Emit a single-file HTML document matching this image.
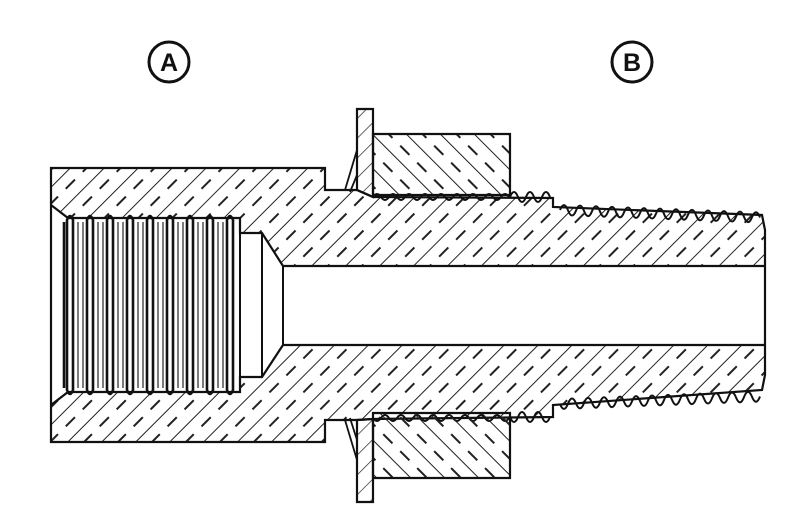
<!DOCTYPE html>
<html><head><meta charset="utf-8"><style>
html,body{margin:0;padding:0;background:#fff;}
svg{display:block}
</style></head><body>
<svg width="800" height="514" viewBox="0 0 800 514" xmlns="http://www.w3.org/2000/svg">
<defs>
<pattern id="hb" width="24" height="24" patternUnits="userSpaceOnUse" patternTransform="rotate(45)">
<line x1="0" y1="0" x2="0" y2="24" stroke="#222" stroke-width="2"/>
<line x1="12" y1="2" x2="12" y2="15" stroke="#222" stroke-width="2"/>
</pattern>
<pattern id="hn" width="24" height="24" patternUnits="userSpaceOnUse" patternTransform="rotate(-45)">
<line x1="0" y1="0" x2="0" y2="24" stroke="#222" stroke-width="2"/>
<line x1="12" y1="2" x2="12" y2="15" stroke="#222" stroke-width="2"/>
</pattern>
<pattern id="hw" width="14" height="14" patternUnits="userSpaceOnUse" patternTransform="rotate(45)">
<line x1="0" y1="0" x2="0" y2="14" stroke="#222" stroke-width="1.4"/>
</pattern>
</defs>
<g fill="none" stroke="#111" stroke-width="3">
<circle cx="169" cy="62" r="20"/>
<circle cx="632" cy="62" r="20"/>
</g>
<text x="169" y="71" font-family="Liberation Sans, sans-serif" font-weight="bold" font-size="25" text-anchor="middle" fill="#111">A</text>
<text x="632" y="71" font-family="Liberation Sans, sans-serif" font-weight="bold" font-size="25" text-anchor="middle" fill="#111">B</text>

<path fill="url(#hb)" fill-rule="evenodd" stroke="#111" stroke-width="2.2"
d="M51,168 L325,168 L325,190 L357,190 L373,197 L553,198 L553,207 L762,215 L765,230 L765,375 L762,390 L553,405 L553,417 L373,419 L357,420 L325,420 L325,442 L51,442 Z
M51,205 L68,218 L240,218 L240,233 L262,233 L283,266 L765,266 L765,345 L283,345 L262,377 L240,377 L240,392 L68,392 L51,405 Z"/>
<line x1="240" y1="233" x2="240" y2="377" stroke="#111" stroke-width="2"/>
<line x1="262" y1="233" x2="262" y2="377" stroke="#111" stroke-width="2"/>
<line x1="283" y1="266" x2="283" y2="345" stroke="#111" stroke-width="2"/>

<g fill="none" stroke="#111" stroke-width="2.6">
<path d="M64,222 L64,388"/>
<path d="M67,220 q3,-8 6,0 L73,390 q-3,8 -6,0Z M87,220 q3,-8 6,0 L93,390 q-3,8 -6,0Z M107,220 q3,-8 6,0 L113,390 q-3,8 -6,0Z M127,220 q3,-8 6,0 L133,390 q-3,8 -6,0Z M147,220 q3,-8 6,0 L153,390 q-3,8 -6,0Z M167,220 q3,-8 6,0 L173,390 q-3,8 -6,0Z M187,220 q3,-8 6,0 L193,390 q-3,8 -6,0Z M207,220 q3,-8 6,0 L213,390 q-3,8 -6,0Z M227,220 q3,-8 6,0 L233,390 q-3,8 -6,0Z"/>
</g>
<g fill="none" stroke="#444" stroke-width="1.4">
<path d="M78,222V388M83,222V388M98,222V388M103,222V388M118,222V388M123,222V388M138,222V388M143,222V388M158,222V388M163,222V388M178,222V388M183,222V388M198,222V388M203,222V388M218,222V388M223,222V388"/>
</g>

<g fill="none" stroke="#111" stroke-width="2">
<path d="M373,197 q4,-6 8,0 t8,0 t8,0 t8,0 t8,0 t8,0 t8,0 t8,0 t8,0 t8,0 t8,0 t8,0 t8,0 t8,0 t8,0 t8,0 t8,0"/>
<path d="M510,197 q4,-10 8,0 t8,0 t8,0 t8,0 t8,0"/>
<path d="M560,210 q4,-10 8,0.3 t8,0.3 t8,0.3 t8,0.3 t8,0.3 t8,0.3 t8,0.3 t8,0.3 t8,0.3 t8,0.3 t8,0.3 t8,0.3 t8,0.3 t8,0.3 t8,0.3 t8,0.3 t8,0.3 t8,0.3 t8,0.3 t8,0.3 t8,0.3 t8,0.3 t8,0.3 t8,0.3 t8,0.3"/>
<path d="M373,418 q4,6 8,0 t8,0 t8,0 t8,0 t8,0 t8,0 t8,0 t8,0 t8,0 t8,0 t8,0 t8,0 t8,0 t8,0 t8,0 t8,0 t8,0"/>
<path d="M510,417 q4,10 8,0 t8,0 t8,0 t8,0 t8,0"/>
<path d="M560,404 q4,10 8,-0.3 t8,-0.3 t8,-0.3 t8,-0.3 t8,-0.3 t8,-0.3 t8,-0.3 t8,-0.3 t8,-0.3 t8,-0.3 t8,-0.3 t8,-0.3 t8,-0.3 t8,-0.3 t8,-0.3 t8,-0.3 t8,-0.3 t8,-0.3 t8,-0.3 t8,-0.3 t8,-0.3 t8,-0.3 t8,-0.3 t8,-0.3 t8,-0.3"/>
</g>

<path fill="url(#hn)" stroke="#111" stroke-width="2.2" d="M373,134 L510,134 L510,195 L373,195 Z"/>
<path fill="url(#hn)" stroke="#111" stroke-width="2.2" d="M373,413 L510,413 L510,478 L373,478 Z"/>
<path fill="url(#hw)" stroke="#111" stroke-width="2.2" d="M357,109 L373,109 L373,197 L357,190 Z"/>
<path fill="url(#hw)" stroke="#111" stroke-width="2.2" d="M357,420 L373,419 L373,502 L357,502 Z"/>
<g fill="none" stroke="#111" stroke-width="1.8">
<path d="M357,150 L345,190 M357,175 L350,192"/>
<path d="M357,460 L345,420 M357,440 L350,418"/>
</g>
</svg>
</body></html>
